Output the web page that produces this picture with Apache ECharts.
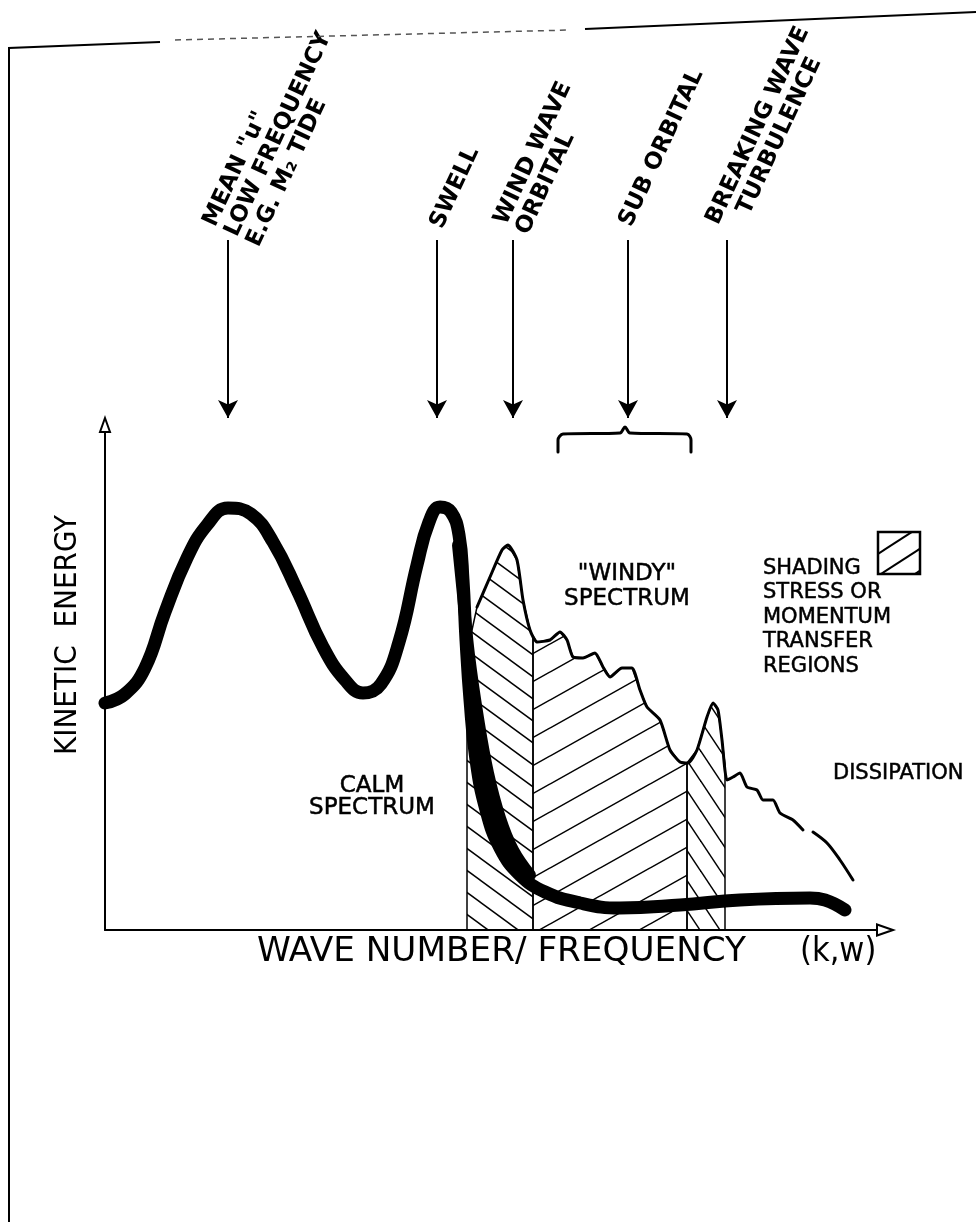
<!DOCTYPE html>
<html>
<head>
<meta charset="utf-8">
<script src="https://cdn.jsdelivr.net/npm/echarts@6/dist/echarts.min.js"></script>
<style>
  html, body { margin: 0; padding: 0; background: #fff; }
  #chart { width: 976px; height: 1222px; }
</style>
</head>
<body>
<div id="chart"></div>
<script>
// x = wave number / frequency, y = kinetic energy (arbitrary schematic units)
const calmSpectrum = [
  [0,227],[20,236],[40,262],[60,318],[82,372],[102,405],[123,422],[146,416],[168,388],
  [192,340],[218,283],[240,250],[258,237],[276,246],[294,288],[312,365],[324,408],
  [335,423],[346,418],[354,395],[358,350],[361,290],[365,230],[371,170],[381,120],
  [395,82],[415,55],[440,38],[475,27],[515,22],[575,25],[635,30],[705,32],[720,30],[740,20]
]
// inner edge of the dark wedge where the swell decays
const swellDecayEdge = [
  [353,385],[358,335],[364,275],[373,212],[383,157],[395,112],[408,80],[425,55]
]
const windySpectrum = [
  [372,323],[385,353],[397,380],[403,385],[412,370],[418,330],[425,300],[432,288],
  [445,290],[455,298],[462,290],[468,273],[478,272],[490,277],[498,263],[505,253],
  [517,262],[527,262],[535,240],[542,223],[555,210],[565,180],[575,168],[583,167],
  [592,180],[602,213],[608,227],[613,220],[617,190],[622,150],[628,153],[635,157],
  [642,143],[652,140],[658,130],[668,130],[675,117],[688,110],[698,100]
]
const dissipationTail = [[708,98],[722,87],[735,70],[748,50]]

// shaded stress / momentum transfer regions
const shadeSwellSide = [
  [362,0],[362,285],[367,300],[372,323],[385,353],[397,380],[403,385],[412,370],
  [418,330],[425,300],[428,294],[428,0]
]
const shadeWindy = [
  [428,0],[428,294],[432,288],[445,290],[455,298],[462,290],[468,273],[478,272],
  [490,277],[498,263],[505,253],[517,262],[527,262],[535,240],[542,223],[555,210],
  [565,180],[575,168],[582,167],[582,0]
]
const shadeBreaking = [
  [582,0],[582,167],[592,180],[602,213],[608,227],[613,220],[617,190],[620,166],[620,0]
]

const subOrbitalBrace = [
  [453,478],[453,490],[458,496],[515,497],[520,503],[525,497],[582,496],[586,490],[586,478]
]

const arrowX = [123, 332, 408, 523, 622]
const arrowTop = 690
const arrowBottom = 512
const topLabels = [
  { lines: ['MEAN "u"', 'LOW FREQUENCY', 'E.G. M\u2082 TIDE'], dx: -8, dy: -10, shift: [0, 0, 0] },
  { lines: ['SWELL'], dx: 10, dy: -8, shift: [0] },
  { lines: ['WIND WAVE', 'ORBITAL'], dx: -2, dy: -12, shift: [0, 0] },
  { lines: ['SUB ORBITAL'], dx: 8, dy: -10, shift: [0] },
  { lines: ['BREAKING WAVE', 'TURBULENCE'], dx: -4, dy: -12, shift: [0, 22] }
]
const legendLines = ['SHADING', 'STRESS OR', 'MOMENTUM', 'TRANSFER', 'REGIONS']

const hatch = (w, h, dir, lw) => {
  const c = document.createElement('canvas')
  c.width = w
  c.height = h
  const ctx = c.getContext('2d')
  ctx.strokeStyle = '#000'
  ctx.lineWidth = lw
  for (let k = -1; k <= 1; k++) {
    ctx.beginPath()
    if (dir === 'down') {
      ctx.moveTo(-w, k * h - h)
      ctx.lineTo(2 * w, k * h + 2 * h)
    } else {
      ctx.moveTo(-w, k * h + 2 * h)
      ctx.lineTo(2 * w, k * h - h)
    }
    ctx.stroke()
  }
  return c
}
const hatchSteepDown = hatch(30, 22, 'down', 1.5)
const hatchUp = hatch(50, 28, 'up', 1.5)
const hatchBreaking = hatch(20, 30, 'down', 1.5)

const chart = echarts.init(document.getElementById('chart'))

const shadeSeries = (data, img) => ({
  type: 'line',
  data: data,
  showSymbol: false,
  symbol: 'none',
  silent: true,
  z: 2,
  lineStyle: { color: '#000', width: 1.5 },
  areaStyle: { color: { image: img, repeat: 'repeat' }, opacity: 1 }
})

// pointer arrows above the plot, one per labelled band
const arrowSeries = arrowX.map(x => ({
  type: 'line',
  data: [[x, arrowTop], [x, arrowBottom]],
  clip: false,
  silent: true,
  showSymbol: true,
  symbol: (val, params) => (params.dataIndex === 1 ? 'arrow' : 'none'),
  symbolSize: [15, 18],
  symbolRotate: 180,
  itemStyle: { color: '#000' },
  lineStyle: { color: '#000', width: 2 },
  z: 5
}))

chart.setOption({
  animation: false,
  backgroundColor: '#fff',
  grid: { left: 105, right: 91, top: 425, bottom: 292 },
  xAxis: {
    type: 'value', min: 0, max: 780,
    axisLine: { lineStyle: { color: '#000', width: 2 }, symbol: ['none', 'emptyTriangle'], symbolSize: [11, 16] },
    axisTick: { show: false }, axisLabel: { show: false }, splitLine: { show: false }
  },
  yAxis: {
    type: 'value', min: 0, max: 505,
    axisLine: { lineStyle: { color: '#000', width: 2 }, symbol: ['none', 'emptyTriangle'], symbolSize: [10, 14] },
    axisTick: { show: false }, axisLabel: { show: false }, splitLine: { show: false }
  },
  series: [
    shadeSeries(shadeSwellSide, hatchSteepDown),
    shadeSeries(shadeWindy, hatchUp),
    shadeSeries(shadeBreaking, hatchBreaking),
    {
      type: 'line', data: windySpectrum, symbol: 'none', smooth: 0.2, z: 3,
      lineStyle: { color: '#000', width: 3, cap: 'round', join: 'round' }
    },
    {
      type: 'line', data: dissipationTail, symbol: 'none', smooth: 0.3, z: 3,
      lineStyle: { color: '#000', width: 3, cap: 'round' }
    },
    {
      type: 'line', data: swellDecayEdge, symbol: 'none', smooth: 0.4, z: 4,
      lineStyle: { color: '#000', width: 12, cap: 'round', join: 'round' }
    },
    {
      type: 'line', data: calmSpectrum, symbol: 'none', smooth: 0.45, z: 5,
      lineStyle: { color: '#000', width: 13, cap: 'round', join: 'round' }
    },
    {
      type: 'line', data: subOrbitalBrace, symbol: 'none', smooth: 0.3, clip: false, z: 5,
      lineStyle: { color: '#000', width: 3, cap: 'round', join: 'round' }
    },
    ...arrowSeries
  ]
})

// annotation text positioned from the data scale
const theta = 65 * Math.PI / 180
const u = [Math.cos(theta), -Math.sin(theta)]
const d = [Math.sin(theta), Math.cos(theta)]
const lh = 24
const graphics = []
topLabels.forEach((lab, i) => {
  const p = chart.convertToPixel({ gridIndex: 0 }, [arrowX[i], arrowTop])
  lab.lines.forEach((txt, j) => {
    graphics.push({
      type: 'text',
      x: p[0] + lab.dx + j * lh * d[0] + lab.shift[j] * u[0],
      y: p[1] + lab.dy + j * lh * d[1] + lab.shift[j] * u[1],
      rotation: theta,
      style: {
        text: txt, fill: '#000', align: 'left', verticalAlign: 'bottom',
        font: 'bold 23px "DejaVu Sans", sans-serif'
      }
    })
  })
})

const calmPos = chart.convertToPixel({ gridIndex: 0 }, [267, 133])
const windyPos = chart.convertToPixel({ gridIndex: 0 }, [522, 343])
const dissPos = chart.convertToPixel({ gridIndex: 0 }, [728, 156])
const plainFont = '21px "DejaVu Sans", sans-serif'
const bigFont = '23px "DejaVu Sans", sans-serif'
const narrowFont = '34px "Liberation Sans Narrow", "DejaVu Sans Condensed", sans-serif'

graphics.push(
  {
    type: 'text', x: calmPos[0], y: calmPos[1],
    style: { text: 'CALM\nSPECTRUM', fill: '#000', stroke: '#000', lineWidth: 0.5, align: 'center', verticalAlign: 'middle', lineHeight: 22, font: bigFont }
  },
  {
    type: 'text', x: windyPos[0], y: windyPos[1],
    style: { text: '"WINDY"\nSPECTRUM', fill: '#000', stroke: '#000', lineWidth: 0.5, align: 'center', verticalAlign: 'middle', lineHeight: 25, font: bigFont }
  },
  {
    type: 'text', x: dissPos[0], y: dissPos[1],
    style: { text: 'DISSIPATION', fill: '#000', stroke: '#000', lineWidth: 0.5, align: 'left', verticalAlign: 'middle', font: plainFont }
  },
  {
    type: 'text', x: 763, y: 556,
    style: { text: legendLines.join('\n'), fill: '#000', stroke: '#000', lineWidth: 0.5, align: 'left', verticalAlign: 'top', lineHeight: 24.5, font: plainFont }
  },
  {
    type: 'rect', shape: { x: 878, y: 532, width: 42, height: 42 },
    style: { fill: { image: hatch(34, 22, 'up', 2), repeat: 'repeat' }, stroke: '#000', lineWidth: 2.5 }
  },
  {
    type: 'text', x: 68, y: 635, rotation: Math.PI / 2,
    style: { text: 'KINETIC  ENERGY', fill: '#000', align: 'center', verticalAlign: 'middle', font: '31px "Liberation Sans Narrow", "DejaVu Sans Condensed", sans-serif' }
  },
  {
    type: 'text', x: 257, y: 952, scaleX: 1.12,
    style: { text: 'WAVE NUMBER/ FREQUENCY', fill: '#000', align: 'left', verticalAlign: 'middle', font: narrowFont }
  },
  {
    type: 'text', x: 800, y: 952,
    style: { text: '(k,w)', fill: '#000', align: 'left', verticalAlign: 'middle', font: narrowFont }
  },
  // sheet border
  {
    type: 'polyline', shape: { points: [[9, 1222], [9, 48], [160, 42]] },
    style: { stroke: '#000', lineWidth: 2, fill: null }
  },
  {
    type: 'polyline', shape: { points: [[175, 40], [570, 30]] },
    style: { stroke: '#555', lineWidth: 1.5, lineDash: [6, 5], fill: null }
  },
  {
    type: 'polyline', shape: { points: [[585, 29], [976, 12]] },
    style: { stroke: '#000', lineWidth: 2, fill: null }
  }
)
chart.setOption({ graphic: graphics })
</script>
</body>
</html>
